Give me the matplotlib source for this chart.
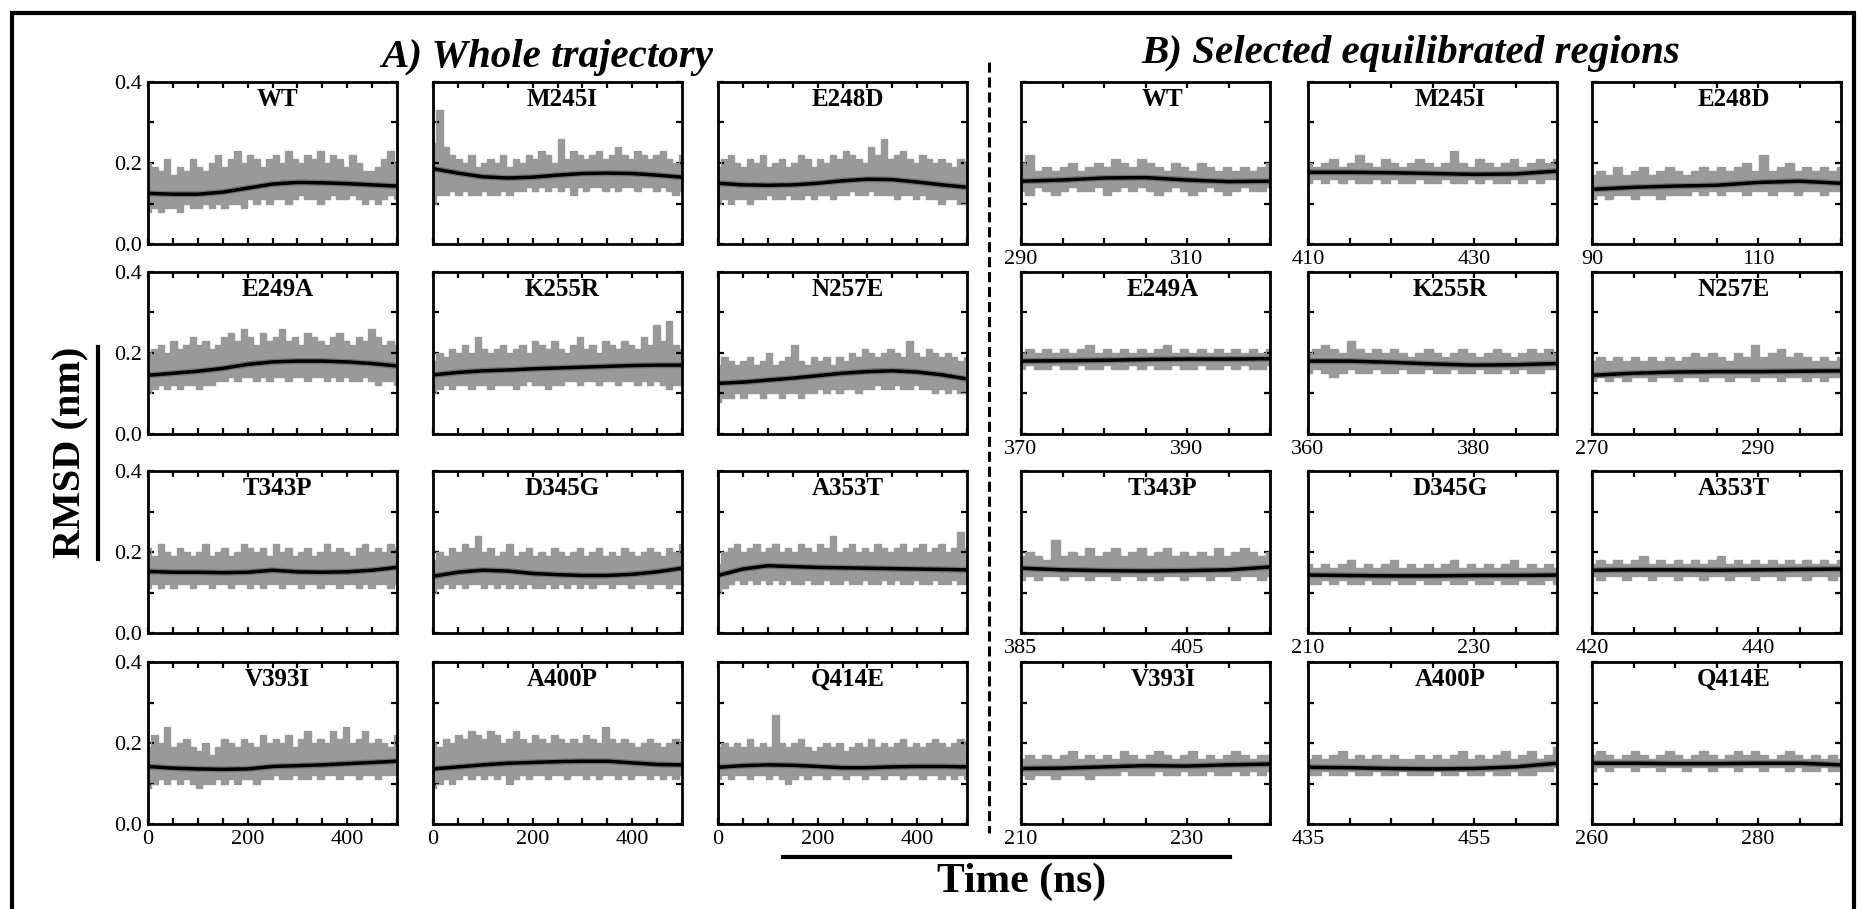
import numpy as np
import matplotlib
matplotlib.use("Agg")
import matplotlib.pyplot as plt
from matplotlib.lines import Line2D

plt.rcParams["font.family"] = ["Liberation Serif", "DejaVu Serif"]

W, H = 1861, 909
GRAY = "#999999"

names = ["WT", "M245I", "E248D", "E249A", "K255R", "N257E",
         "T343P", "D345G", "A353T", "V393I", "A400P", "Q414E"]

# ---------------- A) whole trajectory (0-500 ns) ----------------
A_span = (0, 500)
A_upper = {
    "WT":    [.20,.19,.18,.21,.17,.19,.18,.21,.19,.18,.20,.22,.19,.21,.23,.20,.22,.21,.19,.21,.22,.20,.23,.21,.20,.22,.21,.23,.20,.22,.21,.19,.22,.20,.18,.18,.19,.21,.23,.20],
    "M245I": [.25,.33,.24,.22,.21,.20,.22,.19,.20,.21,.20,.22,.19,.21,.20,.22,.21,.23,.22,.20,.26,.21,.23,.22,.21,.22,.23,.21,.22,.24,.22,.21,.23,.22,.21,.22,.23,.21,.20,.22],
    "E248D": [.19,.21,.22,.20,.19,.21,.20,.22,.19,.20,.21,.19,.20,.22,.21,.19,.21,.20,.22,.21,.23,.22,.21,.20,.24,.22,.26,.21,.22,.23,.21,.20,.22,.21,.20,.21,.20,.19,.21,.20],
    "E249A": [.20,.21,.22,.20,.23,.21,.22,.24,.22,.23,.21,.22,.24,.25,.23,.26,.24,.22,.25,.23,.24,.26,.23,.24,.22,.25,.24,.23,.22,.24,.25,.23,.22,.24,.23,.26,.24,.22,.23,.22],
    "K255R": [.18,.20,.19,.21,.20,.22,.20,.24,.21,.20,.21,.22,.20,.21,.22,.20,.23,.22,.21,.23,.21,.20,.22,.24,.21,.22,.20,.23,.22,.21,.23,.22,.21,.24,.22,.27,.23,.28,.22,.21],
    "N257E": [.17,.19,.18,.17,.18,.19,.17,.18,.20,.17,.18,.19,.22,.18,.17,.19,.18,.19,.17,.19,.18,.20,.19,.21,.20,.19,.20,.21,.20,.19,.23,.20,.19,.21,.20,.19,.20,.19,.18,.19],
    "T343P": [.21,.19,.22,.20,.19,.21,.20,.19,.20,.22,.19,.20,.21,.19,.20,.22,.21,.20,.21,.19,.22,.20,.21,.19,.20,.21,.19,.20,.22,.20,.21,.20,.19,.21,.22,.20,.21,.20,.22,.21],
    "D345G": [.18,.20,.19,.21,.20,.22,.21,.24,.20,.21,.19,.20,.22,.19,.20,.21,.19,.20,.19,.21,.20,.19,.20,.21,.19,.20,.21,.19,.20,.19,.21,.20,.19,.20,.21,.20,.19,.21,.20,.22],
    "A353T": [.17,.20,.21,.22,.20,.21,.22,.20,.21,.22,.20,.21,.20,.22,.21,.20,.22,.21,.24,.20,.21,.22,.20,.21,.20,.22,.21,.20,.21,.22,.20,.21,.22,.20,.21,.22,.20,.21,.25,.21],
    "V393I": [.19,.22,.20,.24,.19,.20,.21,.19,.18,.20,.17,.19,.21,.20,.19,.21,.20,.19,.22,.20,.21,.20,.22,.19,.21,.23,.20,.21,.20,.23,.21,.24,.20,.21,.23,.20,.21,.20,.19,.22],
    "A400P": [.20,.19,.21,.20,.22,.21,.23,.22,.21,.23,.22,.20,.21,.23,.21,.20,.22,.21,.20,.22,.21,.20,.21,.20,.22,.21,.20,.24,.21,.20,.21,.20,.19,.20,.21,.20,.19,.20,.21,.20],
    "Q414E": [.19,.20,.19,.20,.19,.21,.19,.20,.19,.27,.20,.19,.20,.21,.19,.18,.19,.20,.19,.20,.18,.19,.20,.19,.21,.19,.20,.19,.20,.21,.19,.20,.19,.20,.21,.20,.19,.20,.21,.20],
}
A_lower = {
    "WT":    [.08,.09,.08,.09,.09,.08,.10,.09,.09,.10,.09,.10,.09,.10,.10,.09,.11,.10,.11,.10,.11,.11,.10,.11,.12,.11,.11,.10,.11,.12,.11,.11,.12,.11,.10,.11,.10,.11,.12,.11],
    "M245I": [.10,.12,.12,.13,.12,.13,.12,.12,.13,.12,.12,.13,.12,.13,.13,.14,.13,.14,.13,.14,.13,.14,.12,.14,.13,.14,.14,.13,.14,.13,.14,.14,.13,.14,.14,.13,.14,.13,.12,.13],
    "E248D": [.10,.11,.10,.11,.11,.10,.11,.11,.12,.11,.11,.12,.11,.11,.12,.11,.12,.12,.11,.12,.12,.13,.12,.12,.13,.12,.12,.12,.11,.12,.12,.11,.12,.11,.11,.10,.11,.11,.10,.10],
    "E249A": [.10,.11,.12,.11,.12,.11,.12,.12,.11,.12,.12,.13,.13,.14,.13,.14,.14,.13,.14,.13,.14,.14,.13,.14,.14,.13,.14,.14,.13,.14,.13,.14,.13,.13,.14,.13,.12,.13,.13,.12],
    "K255R": [.10,.11,.12,.11,.12,.12,.11,.12,.12,.11,.12,.12,.12,.11,.12,.13,.12,.12,.11,.12,.12,.13,.13,.12,.13,.13,.12,.13,.13,.12,.13,.13,.12,.13,.12,.13,.12,.11,.12,.12],
    "N257E": [.08,.09,.09,.10,.09,.10,.10,.09,.10,.10,.09,.10,.10,.09,.10,.10,.11,.10,.11,.10,.11,.11,.10,.11,.11,.12,.11,.11,.12,.11,.11,.12,.11,.11,.10,.11,.10,.11,.10,.10],
    "T343P": [.11,.12,.11,.12,.11,.12,.12,.11,.12,.12,.11,.12,.12,.11,.12,.12,.11,.12,.11,.12,.12,.11,.12,.12,.11,.12,.12,.11,.12,.12,.11,.12,.12,.11,.12,.11,.12,.12,.11,.12],
    "D345G": [.10,.11,.12,.11,.12,.11,.12,.12,.11,.12,.11,.12,.11,.12,.11,.12,.11,.11,.12,.11,.12,.11,.12,.11,.12,.11,.12,.12,.11,.12,.12,.11,.12,.12,.11,.12,.12,.11,.12,.12],
    "A353T": [.10,.11,.12,.13,.12,.13,.12,.13,.12,.13,.12,.13,.12,.12,.13,.12,.12,.13,.12,.12,.13,.12,.12,.13,.12,.12,.13,.12,.13,.12,.12,.13,.12,.12,.13,.12,.12,.13,.12,.12],
    "V393I": [.09,.10,.11,.10,.11,.10,.11,.10,.09,.10,.10,.11,.10,.11,.10,.11,.11,.10,.11,.11,.12,.11,.11,.12,.11,.11,.12,.11,.12,.12,.11,.12,.12,.11,.12,.12,.11,.12,.12,.12],
    "A400P": [.09,.10,.11,.10,.11,.12,.11,.12,.11,.12,.11,.12,.10,.11,.12,.11,.12,.12,.11,.12,.12,.11,.12,.12,.11,.12,.11,.12,.12,.11,.12,.11,.12,.12,.11,.12,.11,.12,.11,.12],
    "Q414E": [.11,.12,.11,.12,.12,.11,.12,.12,.11,.12,.11,.10,.11,.12,.11,.12,.12,.11,.12,.12,.11,.12,.12,.11,.12,.12,.11,.12,.12,.11,.12,.12,.11,.12,.12,.11,.12,.11,.12,.11],
}
# smoothed running average, sampled every 50 ns
A_smooth = {
    "WT":    [.125,.123,.123,.128,.138,.148,.152,.151,.149,.146,.143],
    "M245I": [.186,.175,.166,.163,.165,.170,.174,.175,.174,.170,.165],
    "E248D": [.150,.146,.145,.146,.150,.156,.160,.159,.153,.146,.140],
    "E249A": [.145,.150,.155,.162,.172,.178,.180,.180,.178,.174,.168],
    "K255R": [.146,.152,.156,.158,.161,.163,.165,.167,.169,.170,.170],
    "N257E": [.125,.128,.133,.138,.144,.150,.154,.156,.153,.146,.136],
    "T343P": [.152,.150,.150,.149,.150,.155,.151,.150,.151,.155,.162],
    "D345G": [.140,.150,.155,.153,.147,.144,.142,.142,.145,.151,.160],
    "A353T": [.142,.158,.166,.164,.162,.161,.160,.159,.158,.157,.156],
    "V393I": [.142,.138,.136,.135,.136,.142,.144,.146,.149,.152,.155],
    "A400P": [.136,.141,.146,.150,.152,.154,.155,.155,.151,.147,.146],
    "Q414E": [.140,.144,.146,.145,.142,.139,.139,.141,.142,.142,.141],
}

# ---------------- B) selected equilibrated regions (30 ns windows) ----------------
B_start = {"WT": 290, "M245I": 410, "E248D": 90, "E249A": 370, "K255R": 360, "N257E": 270,
           "T343P": 385, "D345G": 210, "A353T": 420, "V393I": 210, "A400P": 435, "Q414E": 260}
B_window = 30
B_upper = {
    "WT":    [.20,.22,.18,.19,.18,.19,.20,.18,.19,.20,.19,.21,.20,.19,.21,.20,.19,.18,.20,.19,.18,.20,.19,.18,.19,.18,.19,.18,.19,.20],
    "M245I": [.20,.19,.20,.21,.19,.20,.22,.20,.19,.21,.20,.19,.20,.21,.20,.19,.20,.23,.20,.19,.21,.20,.19,.20,.21,.19,.20,.21,.20,.21],
    "E248D": [.17,.18,.17,.19,.17,.18,.19,.17,.18,.19,.18,.17,.18,.19,.18,.19,.18,.19,.20,.18,.22,.18,.19,.20,.18,.19,.18,.19,.18,.19],
    "E249A": [.20,.21,.20,.21,.20,.21,.20,.21,.22,.20,.21,.20,.21,.20,.21,.20,.21,.22,.20,.21,.20,.21,.20,.21,.20,.21,.20,.21,.20,.21],
    "K255R": [.20,.21,.22,.21,.20,.23,.21,.20,.21,.20,.21,.20,.19,.20,.21,.20,.19,.20,.21,.20,.19,.20,.21,.20,.19,.20,.21,.20,.21,.20],
    "N257E": [.18,.19,.18,.19,.18,.19,.18,.19,.18,.19,.18,.19,.20,.19,.20,.19,.18,.20,.19,.22,.19,.20,.21,.19,.20,.19,.18,.19,.18,.19],
    "T343P": [.19,.20,.19,.18,.23,.19,.20,.19,.21,.19,.20,.21,.19,.20,.21,.19,.20,.21,.19,.20,.19,.20,.19,.21,.19,.20,.21,.20,.19,.20],
    "D345G": [.17,.16,.17,.16,.17,.18,.16,.17,.16,.17,.18,.16,.17,.16,.17,.16,.17,.18,.16,.17,.16,.17,.16,.17,.18,.16,.17,.16,.17,.16],
    "A353T": [.17,.18,.17,.18,.17,.18,.19,.17,.18,.17,.18,.17,.18,.17,.18,.19,.17,.18,.17,.18,.17,.18,.17,.18,.17,.18,.17,.18,.17,.18],
    "V393I": [.16,.17,.16,.17,.16,.17,.18,.16,.17,.16,.17,.16,.18,.17,.16,.17,.18,.17,.16,.17,.18,.16,.17,.16,.17,.18,.17,.16,.17,.17],
    "A400P": [.16,.17,.16,.17,.18,.16,.17,.16,.17,.16,.17,.16,.16,.17,.16,.17,.16,.17,.18,.16,.17,.16,.17,.18,.16,.17,.18,.16,.17,.19],
    "Q414E": [.17,.18,.17,.16,.17,.18,.17,.16,.17,.18,.17,.16,.17,.18,.17,.16,.17,.18,.17,.18,.17,.16,.17,.18,.17,.16,.17,.16,.17,.16],
}
B_lower = {
    "WT":    [.13,.12,.14,.13,.12,.13,.14,.13,.13,.14,.12,.13,.14,.13,.14,.13,.12,.13,.14,.13,.12,.13,.14,.13,.12,.13,.14,.13,.13,.14],
    "M245I": [.15,.16,.15,.16,.15,.16,.15,.15,.16,.15,.16,.15,.15,.16,.15,.15,.16,.15,.15,.16,.15,.16,.15,.15,.16,.15,.16,.15,.16,.16],
    "E248D": [.11,.12,.11,.12,.12,.11,.12,.12,.11,.12,.12,.12,.13,.12,.13,.12,.13,.13,.12,.13,.13,.12,.13,.13,.12,.13,.13,.12,.13,.13],
    "E249A": [.16,.17,.16,.16,.17,.16,.16,.17,.16,.16,.17,.16,.16,.17,.16,.17,.16,.16,.17,.16,.16,.17,.16,.16,.17,.16,.17,.16,.16,.17],
    "K255R": [.15,.16,.15,.14,.15,.16,.15,.15,.16,.15,.15,.16,.15,.15,.16,.15,.15,.16,.15,.15,.16,.15,.15,.16,.15,.16,.15,.15,.16,.16],
    "N257E": [.13,.14,.13,.14,.13,.14,.14,.13,.14,.14,.13,.14,.14,.13,.14,.14,.13,.14,.14,.13,.14,.14,.13,.14,.14,.13,.14,.13,.14,.14],
    "T343P": [.13,.14,.13,.14,.14,.13,.14,.14,.13,.14,.14,.13,.14,.14,.13,.14,.13,.14,.14,.13,.14,.14,.13,.14,.14,.13,.14,.14,.13,.14],
    "D345G": [.12,.12,.13,.12,.13,.12,.12,.13,.12,.12,.13,.12,.12,.13,.12,.12,.13,.12,.12,.13,.12,.12,.13,.12,.12,.13,.12,.12,.13,.12],
    "A353T": [.14,.13,.14,.14,.13,.14,.14,.13,.14,.14,.13,.14,.14,.13,.14,.14,.13,.14,.14,.13,.14,.14,.13,.14,.14,.13,.14,.14,.13,.14],
    "V393I": [.12,.11,.12,.12,.11,.12,.12,.12,.11,.12,.12,.12,.13,.12,.12,.12,.13,.12,.12,.13,.12,.12,.13,.12,.12,.13,.12,.13,.12,.13],
    "A400P": [.12,.12,.13,.12,.12,.13,.12,.12,.13,.12,.12,.13,.12,.12,.12,.13,.12,.12,.13,.12,.12,.13,.12,.12,.13,.12,.12,.13,.13,.14],
    "Q414E": [.13,.14,.13,.14,.14,.13,.14,.14,.13,.14,.14,.13,.14,.14,.13,.14,.14,.13,.14,.14,.13,.14,.14,.13,.14,.13,.13,.14,.13,.13],
}
# smoothed running average, sampled every 5 ns of the window
B_smooth = {
    "WT":    [.155,.158,.163,.164,.158,.154,.155],
    "M245I": [.177,.177,.176,.174,.172,.173,.180],
    "E248D": [.135,.140,.143,.145,.152,.155,.150],
    "E249A": [.180,.181,.182,.184,.185,.185,.186],
    "K255R": [.180,.180,.177,.173,.170,.171,.174],
    "N257E": [.145,.150,.153,.154,.154,.155,.156],
    "T343P": [.160,.156,.154,.153,.154,.156,.163],
    "D345G": [.143,.142,.141,.141,.142,.142,.143],
    "A353T": [.155,.156,.156,.155,.156,.157,.158],
    "V393I": [.137,.138,.141,.144,.143,.146,.148],
    "A400P": [.140,.139,.137,.136,.137,.141,.150],
    "Q414E": [.150,.150,.149,.149,.150,.150,.146],
}

# ---------------- layout (pixel boxes: left, top, width, height) ----------------
A_cols = [148, 433, 718]
B_cols = [1021, 1308, 1592]
rows = [82, 272, 471, 662]
PW, PH = 249, 162

fig = plt.figure(figsize=(W / 100, H / 100), dpi=100)


def px_axes(left, top, w, h):
    return fig.add_axes([left / W, 1 - (top + h) / H, w / W, h / H])


def style(ax):
    for s in ax.spines.values():
        s.set_linewidth(2.0)
    ax.tick_params(which="both", direction="in", top=True, right=True,
                   length=4, width=1.6, labelsize=16, pad=4)


def draw(ax, t0, t1, up, lo, smooth, title, title_x):
    up = np.asarray(up)
    lo = np.asarray(lo)
    t = np.linspace(t0, t1, len(up))
    ax.fill_between(t, lo, up, step="mid", color=GRAY, lw=0)
    ax.step(t, up, where="mid", color=GRAY, lw=1.0)
    ax.step(t, lo, where="mid", color=GRAY, lw=1.0)
    ts = np.linspace(t0, t1, len(smooth))
    ax.plot(ts, smooth, color="#222222", lw=4.4, alpha=0.3, solid_capstyle="butt")
    ax.plot(ts, smooth, color="black", lw=2.5, solid_capstyle="butt")
    ax.set_xlim(t0, t1)
    ax.set_ylim(0, 0.4)
    ax.text(title_x, 0.895, title, transform=ax.transAxes, ha="center", va="center",
            fontsize=18, fontweight="bold")


for i, name in enumerate(names):
    r, c = divmod(i, 3)
    # whole trajectory
    ax = px_axes(A_cols[c], rows[r], PW, PH)
    draw(ax, A_span[0], A_span[1], A_upper[name], A_lower[name], A_smooth[name], name, 0.52)
    xt = np.arange(A_span[0], A_span[1] + 1, 50)
    ax.set_xticks(xt)
    ax.set_xticklabels([f"{v:g}" if v % 200 == 0 and r == 3 else "" for v in xt])
    yt = np.arange(0, 0.41, 0.1)
    ax.set_yticks(yt)
    ax.set_yticklabels([f"{v:.1f}" if round(v * 10) % 2 == 0 and c == 0 else "" for v in yt])
    style(ax)

    # equilibrated window
    s = B_start[name]
    ax = px_axes(B_cols[c], rows[r], PW, PH)
    draw(ax, s, s + B_window, B_upper[name], B_lower[name], B_smooth[name], name, 0.57)
    xt = np.arange(s, s + B_window + 1, 5)
    ax.set_xticks(xt)
    ax.set_xticklabels([str(v) if (v - s) % 20 == 0 else "" for v in xt])
    ax.set_yticks(np.arange(0, 0.41, 0.1))
    ax.set_yticklabels([])
    style(ax)

# headings
fig.text(547 / W, 1 - 57 / H, "A) Whole trajectory", ha="center", va="center",
         fontsize=29.5, fontweight="bold", fontstyle="italic")
fig.text(1411 / W, 1 - 53 / H, "B) Selected equilibrated regions", ha="center", va="center",
         fontsize=29.5, fontweight="bold", fontstyle="italic")

# axis titles with their rules
fig.text(71 / W, 1 - 452 / H, "RMSD (nm)", rotation=90, ha="center", va="center",
         fontsize=29, fontweight="bold")
fig.add_artist(Line2D([98 / W, 98 / W], [1 - 347 / H, 1 - 559 / H], color="black", lw=3,
                      transform=fig.transFigure))
fig.text(1022 / W, 1 - 882 / H, "Time (ns)", ha="center", va="center",
         fontsize=30, fontweight="bold")
fig.add_artist(Line2D([783 / W, 1230 / W], [1 - 857 / H, 1 - 857 / H], color="black", lw=3,
                      transform=fig.transFigure))

# dashed separator between the two parts
fig.add_artist(Line2D([989 / W, 989 / W], [1 - 62 / H, 1 - 833 / H], color="black", lw=2.2,
                      ls=(0, (3.3, 1.6)), transform=fig.transFigure))

# outer frame (open at the bottom edge)
fig.add_artist(Line2D([12 / W, 12 / W, 1854 / W, 1854 / W],
                      [-0.05, 1 - 13 / H, 1 - 13 / H, -0.05], color="black", lw=3,
                      transform=fig.transFigure, solid_joinstyle="miter"))

fig.savefig("out.png", dpi=100)
